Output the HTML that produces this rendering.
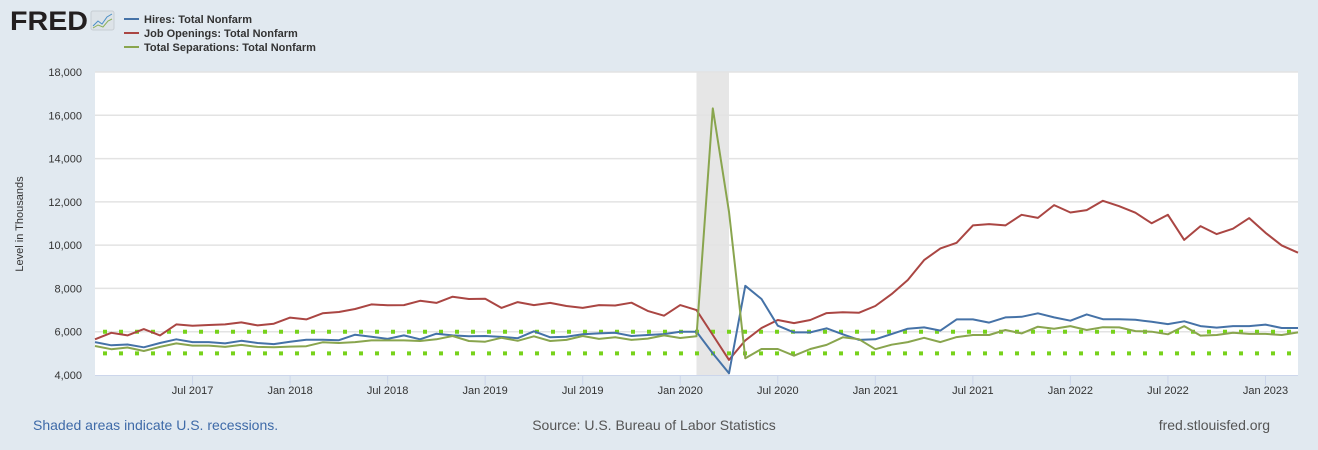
<!DOCTYPE html>
<html><head><meta charset="utf-8"><style>
body{margin:0;width:1318px;height:450px;background:#e1e9f0;font-family:"Liberation Sans",sans-serif;overflow:hidden}
svg{position:absolute;left:0;top:0}
</style></head><body>
<svg id="c" width="1318" height="450"></svg>
<script>
const months = 75; // Jan 2017 .. Mar 2023
const hires = [5520,5370,5410,5280,5480,5650,5520,5520,5460,5580,5480,5430,5540,5630,5630,5610,5860,5770,5670,5830,5650,5910,5830,5790,5800,5760,5700,6020,5740,5770,5880,5920,5950,5800,5850,5890,6000,6000,5000,4080,8120,7510,6280,5970,5970,6160,5880,5620,5650,5890,6140,6200,6050,6570,6570,6420,6660,6690,6850,6660,6510,6800,6580,6580,6550,6460,6350,6480,6260,6190,6260,6260,6330,6170,6170];
const openings = [5650,5950,5830,6120,5830,6340,6280,6310,6340,6430,6290,6370,6650,6570,6850,6910,7050,7260,7220,7230,7430,7330,7620,7510,7520,7100,7370,7230,7330,7190,7100,7230,7210,7340,6960,6740,7230,7000,5850,4700,5600,6170,6540,6400,6540,6860,6900,6880,7190,7740,8390,9310,9850,10110,10910,10970,10910,11400,11260,11850,11510,11620,12050,11800,11500,11010,11400,10240,10880,10510,10760,11250,10570,9990,9650];
const separations = [5340,5190,5270,5110,5300,5460,5360,5360,5300,5390,5300,5280,5310,5330,5510,5480,5520,5600,5600,5600,5570,5650,5800,5570,5540,5720,5580,5790,5570,5620,5800,5670,5740,5620,5680,5830,5710,5790,16320,11540,4770,5200,5200,4890,5200,5390,5740,5650,5190,5400,5520,5720,5520,5750,5850,5850,6080,5920,6230,6140,6260,6080,6210,6200,6030,6000,5880,6260,5820,5850,5950,5900,5900,5850,5970];
const yTicks = [4000,6000,8000,10000,12000,14000,16000,18000];
const xTickLabels = ["Jul 2017","Jan 2018","Jul 2018","Jan 2019","Jul 2019","Jan 2020","Jul 2020","Jan 2021","Jul 2021","Jan 2022","Jul 2022","Jan 2023"];
const xTickMonths = [6,12,18,24,30,36,42,48,54,60,66,72];
const recession = [37,39];
const refLines = [6000,5000];

const L=95,R=1298,T=72,B=375;
const X=i=>L+i*(R-L)/(months-1);
const Y=v=>B-(v-4000)/14000*(B-T);
const NS="http://www.w3.org/2000/svg";
const svg=document.getElementById('c');
function mk(tag,attrs,parent){const e=document.createElementNS(NS,tag);for(const k in attrs)e.setAttribute(k,attrs[k]);(parent||svg).appendChild(e);return e;}
function txt(s,attrs){const e=mk('text',attrs);e.textContent=s;return e;}

let e=mk('rect',{x:L,y:T,width:R-L,height:B-T,fill:'#fff'});


e=mk('rect',{x:X(recession[0]),y:T,width:X(recession[1])-X(recession[0]),height:B-T,fill:'#e6e6e6'});


yTicks.forEach(v=>{
  if(v>4000){const g=mk('line',{x1:L,x2:R,y1:Y(v),y2:Y(v),stroke:'#e3e3e3','stroke-width':1.5});
  
  }
  const t=txt(v.toLocaleString('en-US'),{x:82,y:Y(v)+4,'text-anchor':'end','font-size':11,fill:'#333'});
  
  
});
e=mk('line',{x1:L,x2:R,y1:B+0.5,y2:B+0.5,stroke:'#ccd6eb','stroke-width':1});


xTickMonths.forEach((m,i)=>{
  const tk=mk('line',{x1:X(m),x2:X(m),y1:B,y2:B+10,stroke:'#ccd6eb'});
  
  
  const t=txt(xTickLabels[i],{x:X(m),y:394,'text-anchor':'middle','font-size':11,fill:'#333'});
  
  
});
refLines.forEach(v=>{
  const l=mk('line',{x1:L,x2:R,y1:Y(v),y2:Y(v),stroke:'#77d21b','stroke-width':4,'stroke-dasharray':'4 12','stroke-dashoffset':-8});
  
  
});
function series(arr,color,name){
  const p=mk('polyline',{points:arr.map((v,i)=>X(i).toFixed(1)+','+Y(v).toFixed(1)).join(' '),fill:'none',stroke:color,'stroke-width':2,'stroke-linejoin':'round'});
  
  
}
series(openings,'#aa4643','job-openings-line');
series(hires,'#4572a7','hires-line');
series(separations,'#89a54e','separations-line');

e=txt('Level in Thousands',{x:0,y:0,transform:'translate(23,224) rotate(-90)','text-anchor':'middle','font-size':11,fill:'#333'});



e=txt('FRED',{x:10,y:30,'font-size':27,'font-weight':'bold',fill:'#231f20',textLength:78,lengthAdjust:'spacingAndGlyphs'});


e=mk('rect',{x:91,y:11,width:23,height:19,rx:2,fill:'#dde3e8',stroke:'#c8ced3'});


mk('polyline',{points:'93,26 98,21 102,24 107,17 112,14',fill:'none',stroke:'#4b8fc6','stroke-width':1});
mk('polyline',{points:'93,28 98,25 103,27 108,21 112,19',fill:'none',stroke:'#8cb05a','stroke-width':1});

const legend=[['Hires: Total Nonfarm','#4572a7'],['Job Openings: Total Nonfarm','#aa4643'],['Total Separations: Total Nonfarm','#89a54e']];
legend.forEach((d,i)=>{
  const y=19+i*14;
  const l=mk('line',{x1:124,x2:139,y1:y,y2:y,stroke:d[1],'stroke-width':2});
  
  
  const t=txt(d[0],{x:144,y:y+4,'font-size':11,'font-weight':'bold',fill:'#333'});
  
  
});
e=txt('Shaded areas indicate U.S. recessions.',{x:33,y:430,'font-size':14,fill:'#3e6aa8'});


e=txt('Source: U.S. Bureau of Labor Statistics',{x:654,y:430,'font-size':14,fill:'#555','text-anchor':'middle'});


e=txt('fred.stlouisfed.org',{x:1270,y:430,'font-size':14,fill:'#555','text-anchor':'end'});


</script>
</body></html>
